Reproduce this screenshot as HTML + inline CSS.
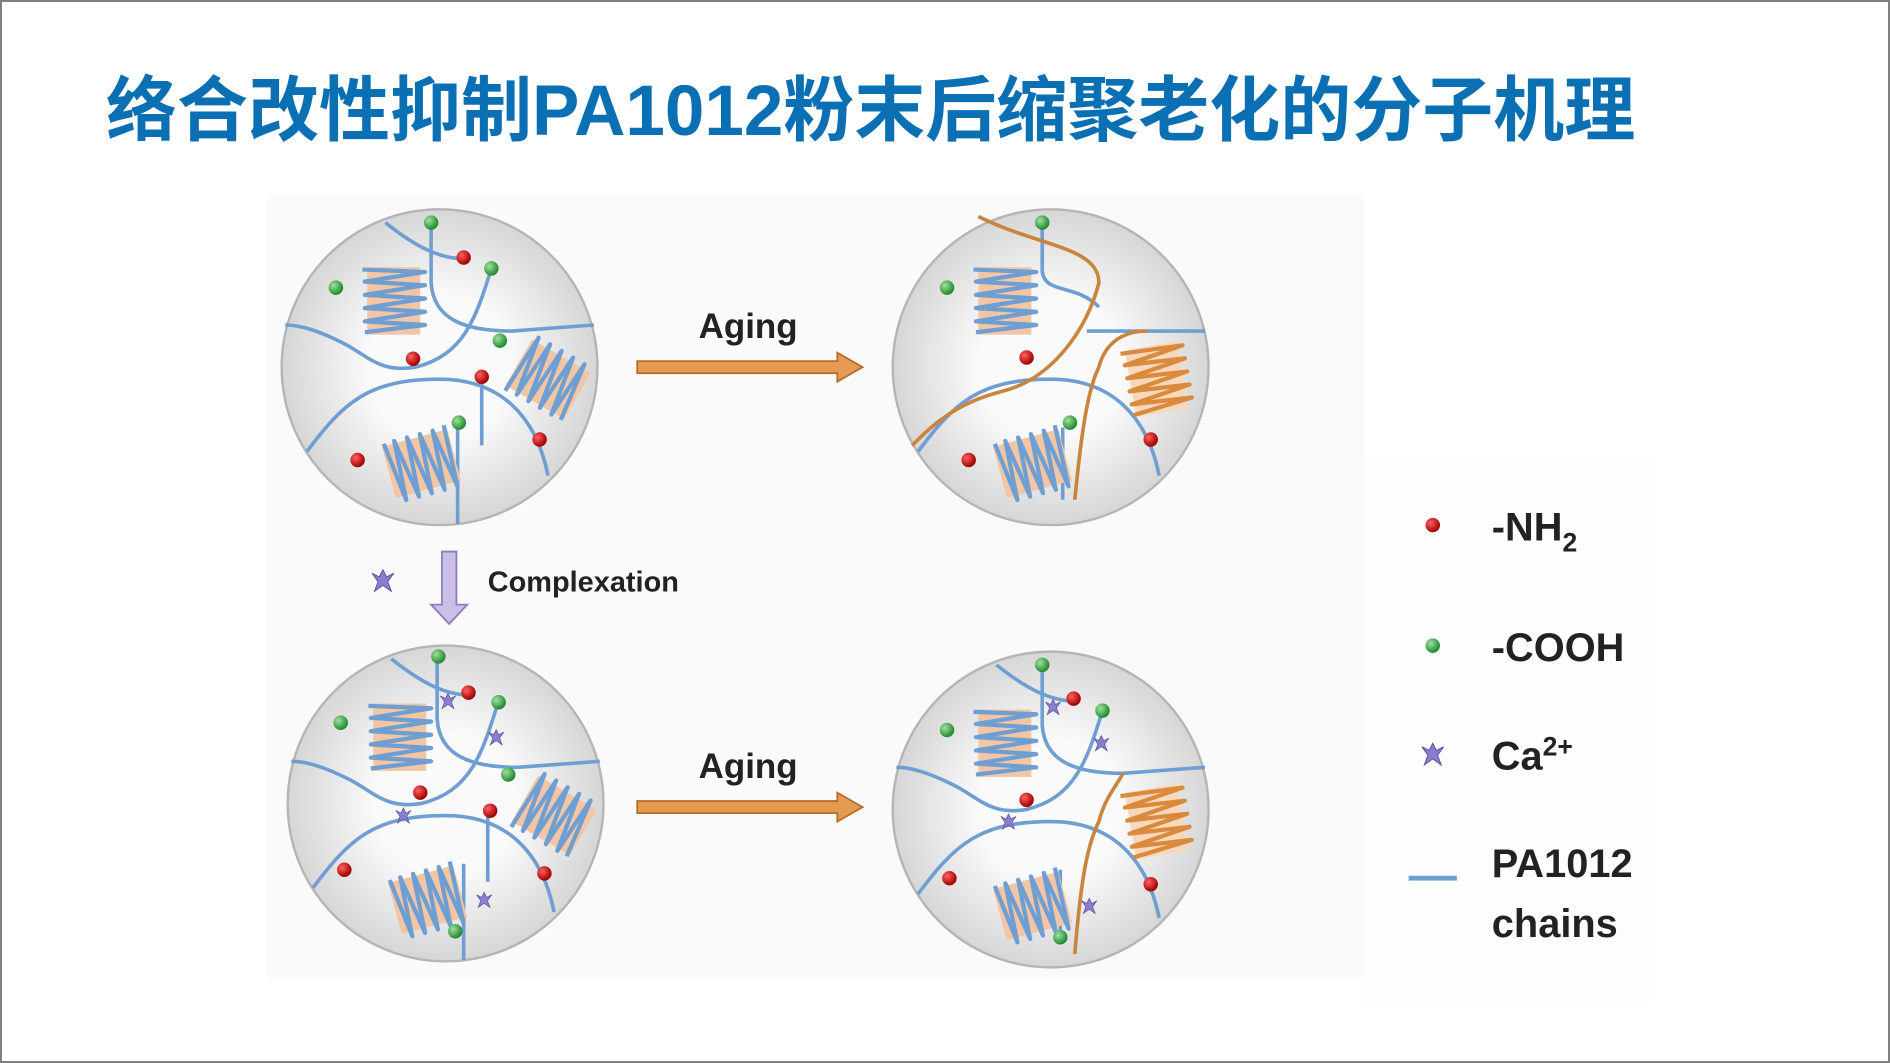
<!DOCTYPE html>
<html><head><meta charset="utf-8"><style>
html,body{margin:0;padding:0;background:#fff}
.wrap{width:1890px;height:1063px;position:relative;overflow:hidden;box-sizing:border-box;border:2px solid #7f7f7f;background:#fff}
h1{position:absolute;left:104px;top:52px;margin:0;font:bold 71px "Liberation Sans","Noto Sans CJK SC",sans-serif;color:#0b6fb3;letter-spacing:0px;white-space:nowrap}
svg{position:absolute;left:0;top:0}
</style></head><body><div class="wrap">
<h1>络合改性抑制PA1012粉末后缩聚老化的分子机理</h1>
<svg width="1890" height="1063" viewBox="0 0 1568 882" preserveAspectRatio="none" font-family="Liberation Sans, DejaVu Sans, sans-serif">
<defs>
<radialGradient id="g" cx="50%" cy="50%" r="50%"><stop offset="0.45" stop-color="#fafafa"/><stop offset="1" stop-color="#d6d6d6"/></radialGradient>
<g id="coil">
<rect x="-22" y="-28" width="44" height="56" fill="#f2c6a4"/>
<path d="M-26,-26 L26,-24 L-24,-16 L26,-13 L-24,-5 L26,-2 L-24,6 L26,9 L-24,17 L26,20 L-24,26" fill="none" stroke="#6f9fd2" stroke-width="3.5" stroke-linejoin="round"/>
</g>
<g id="ocoil">
<rect x="-22" y="-28" width="44" height="56" fill="#f8d8bc"/>
<path d="M-26,-26 L26,-24 L-24,-16 L26,-13 L-24,-5 L26,-2 L-24,6 L26,9 L-24,17 L26,20 L-24,26" fill="none" stroke="#d98a3c" stroke-width="3.5" stroke-linejoin="round"/>
</g>
<radialGradient id="rd" cx="35%" cy="35%" r="65%"><stop offset="0" stop-color="#ff6060"/><stop offset="1" stop-color="#a00000"/></radialGradient>
<radialGradient id="gd" cx="35%" cy="35%" r="65%"><stop offset="0" stop-color="#9fe09f"/><stop offset="1" stop-color="#1f8a2f"/></radialGradient>
<g id="base">
<circle r="131" fill="url(#g)" stroke="#b5b5b5" stroke-width="2"/>
</g>
<g id="star"><path d="M0,-9 L3,-3 L9,-6 L4,1 L7,9 L0,4 L-7,9 L-4,1 L-9,-6 L-3,-3 Z" fill="#8a7fcf" stroke="#5a4fa0" stroke-width="0.8"/></g>
</defs>
<rect x="220" y="160" width="910" height="650" fill="#fafafa"/>
<rect x="1130" y="380" width="240" height="450" fill="#fdfdfd"/>

<g id="c1" transform="translate(363,303)">
<use href="#base"/>
<g fill="none" stroke="#6f9fd2" stroke-width="3">
<path d="M-45,-120 C-20,-100 0,-90 20,-90"/>
<path d="M-7,-120 L-7,-70 C-5,-40 20,-30 60,-30 L128,-35"/>
<path d="M43,-82 C30,-40 20,-10 -20,0 C-50,5 -60,-10 -80,-20 C-100,-30 -115,-35 -128,-35"/>
<path d="M-110,70 C-80,30 -60,10 0,10 C50,10 80,40 90,90"/>
<path d="M15,50 L15,130"/>
<path d="M35,5 L35,65"/>
</g>
<use href="#coil" transform="translate(-38,-55)"/>
<use href="#coil" transform="translate(90,10) rotate(-60)"/>
<use href="#coil" transform="translate(-15,80) rotate(75)"/>
</g>
<g transform="translate(363,303)">
<circle cx="-7" cy="-120" r="6" fill="url(#gd)"/><circle cx="20" cy="-91" r="6" fill="url(#rd)"/>
<circle cx="43" cy="-82" r="6" fill="url(#gd)"/><circle cx="-86" cy="-66" r="6" fill="url(#gd)"/>
<circle cx="-22" cy="-7" r="6" fill="url(#rd)"/><circle cx="50" cy="-22" r="6" fill="url(#gd)"/>
<circle cx="35" cy="8" r="6" fill="url(#rd)"/><circle cx="16" cy="46" r="6" fill="url(#gd)"/>
<circle cx="83" cy="60" r="6" fill="url(#rd)"/><circle cx="-68" cy="77" r="6" fill="url(#rd)"/>
</g>

<g transform="translate(870,303)">
<use href="#base"/>
<g fill="none" stroke="#6f9fd2" stroke-width="3">
<path d="M-7,-120 L-7,-80 C-5,-60 20,-70 40,-50"/>
<path d="M-110,70 C-80,30 -60,10 0,10 C50,10 80,40 90,90"/>
<path d="M10,50 L10,110"/>
<path d="M30,-30 L128,-30"/>
</g>
<g fill="none" stroke="#c9843e" stroke-width="3">
<path d="M-60,-125 C-10,-100 40,-100 40,-70 C30,-30 0,10 -40,20 C-80,30 -100,50 -115,65"/>
<path d="M20,110 C25,60 30,20 40,0 C45,-20 60,-30 80,-30"/>
</g>
<use href="#coil" transform="translate(-38,-55)"/>
<use href="#ocoil" transform="translate(88,10) rotate(-10)"/>
<use href="#coil" transform="translate(-15,80) rotate(75)"/>
<circle cx="-7" cy="-120" r="6" fill="url(#gd)"/><circle cx="-86" cy="-66" r="6" fill="url(#gd)"/>
<circle cx="-20" cy="-8" r="6" fill="url(#rd)"/><circle cx="16" cy="46" r="6" fill="url(#gd)"/>
<circle cx="83" cy="60" r="6" fill="url(#rd)"/><circle cx="-68" cy="77" r="6" fill="url(#rd)"/>
</g>

<use href="#c1" transform="translate(5,362)"/>
<g transform="translate(368,665)">
<circle cx="-6" cy="-122" r="6" fill="url(#gd)"/><circle cx="19" cy="-92" r="6" fill="url(#rd)"/>
<circle cx="44" cy="-84" r="6" fill="url(#gd)"/><circle cx="-87" cy="-67" r="6" fill="url(#gd)"/>
<circle cx="-21" cy="-9" r="6" fill="url(#rd)"/><circle cx="52" cy="-24" r="6" fill="url(#gd)"/>
<circle cx="37" cy="6" r="6" fill="url(#rd)"/><circle cx="82" cy="58" r="6" fill="url(#rd)"/>
<circle cx="-84" cy="55" r="6" fill="url(#rd)"/><circle cx="8" cy="106" r="6" fill="url(#gd)"/>
<use href="#star" transform="translate(2,-85) scale(0.7)"/><use href="#star" transform="translate(42,-55) scale(0.7)"/>
<use href="#star" transform="translate(-35,10) scale(0.7)"/><use href="#star" transform="translate(32,80) scale(0.7)"/>
</g>

<g transform="translate(870,670)">
<use href="#base"/>
<g fill="none" stroke="#6f9fd2" stroke-width="3">
<path d="M-45,-120 C-20,-100 0,-90 20,-90"/>
<path d="M-7,-120 L-7,-70 C-5,-40 20,-30 60,-30 L128,-35"/>
<path d="M43,-82 C30,-40 20,-10 -20,0 C-50,5 -60,-10 -80,-20 C-100,-30 -115,-35 -128,-35"/>
<path d="M-110,70 C-80,30 -60,10 0,10 C50,10 80,40 90,90"/>
<path d="M8,50 L8,105"/>
</g>
<path d="M20,120 C25,60 30,30 40,10 C45,-10 55,-20 60,-30" fill="none" stroke="#c9843e" stroke-width="3"/>
<use href="#coil" transform="translate(-38,-55)"/>
<use href="#ocoil" transform="translate(88,10) rotate(-10)"/>
<use href="#coil" transform="translate(-15,80) rotate(75)"/>
<circle cx="-7" cy="-120" r="6" fill="url(#gd)"/><circle cx="19" cy="-92" r="6" fill="url(#rd)"/>
<circle cx="43" cy="-82" r="6" fill="url(#gd)"/><circle cx="-86" cy="-66" r="6" fill="url(#gd)"/>
<circle cx="-20" cy="-8" r="6" fill="url(#rd)"/><circle cx="83" cy="62" r="6" fill="url(#rd)"/>
<circle cx="-84" cy="57" r="6" fill="url(#rd)"/><circle cx="8" cy="106" r="6" fill="url(#gd)"/>
<use href="#star" transform="translate(2,-85) scale(0.7)"/><use href="#star" transform="translate(42,-55) scale(0.7)"/>
<use href="#star" transform="translate(-35,10) scale(0.7)"/><use href="#star" transform="translate(32,80) scale(0.7)"/>
</g>

<g fill="#e49a50" stroke="#b86e28" stroke-width="1.5">
<path d="M527,298 L693,298 L693,291 L714,303 L693,315 L693,308 L527,308 Z"/>
<path d="M527,663 L693,663 L693,656 L714,668 L693,680 L693,673 L527,673 Z"/>
</g>
<text x="619" y="279" font-size="29" font-weight="bold" text-anchor="middle" fill="#222">Aging</text>
<text x="619" y="644" font-size="29" font-weight="bold" text-anchor="middle" fill="#222">Aging</text>
<path d="M365,456 L377,456 L377,500 L386,500 L371,516 L356,500 L365,500 Z" fill="#cbbfe8" stroke="#8a7fb8" stroke-width="1.5"/>
<use href="#star" transform="translate(316,480)"/>
<text x="403" y="489" font-size="24" font-weight="bold" fill="#222">Complexation</text>

<circle cx="1187" cy="434" r="6" fill="url(#rd)"/>
<text x="1236" y="447" font-size="33" font-weight="bold" fill="#222">-NH<tspan font-size="22" dy="9">2</tspan></text>
<circle cx="1187" cy="534" r="6" fill="url(#gd)"/>
<text x="1236" y="547" font-size="33" font-weight="bold" fill="#222">-COOH</text>
<use href="#star" transform="translate(1187,624)"/>
<text x="1236" y="637" font-size="33" font-weight="bold" fill="#222">Ca<tspan font-size="22" dy="-12">2+</tspan></text>
<line x1="1167" y1="727" x2="1207" y2="727" stroke="#6f9fd2" stroke-width="4"/>
<text x="1236" y="726" font-size="33" font-weight="bold" fill="#222">PA1012</text>
<text x="1236" y="776" font-size="33" font-weight="bold" fill="#222">chains</text>
</svg>
</div></body></html>
